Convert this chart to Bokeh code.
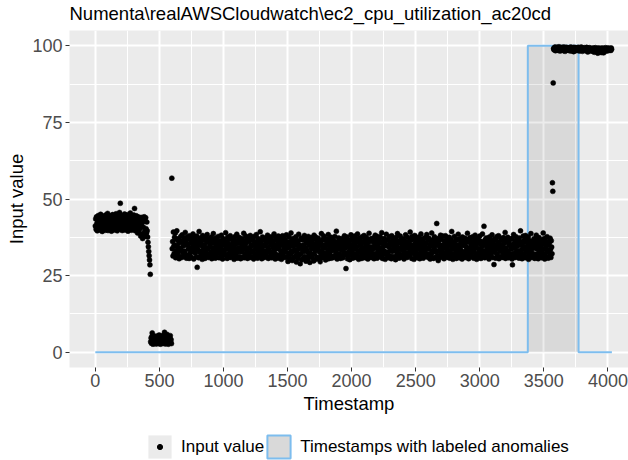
from bokeh.plotting import figure
from bokeh.layouts import column
from bokeh.models import ColumnDataSource, Range1d, FixedTicker, Legend, LegendItem
from bokeh.embed import file_html
from bokeh.resources import INLINE

FONT = "Liberation Sans"

title_text = r"Numenta\realAWSCloudwatch\ec2_cpu_utilization_ac20cd"
x_label = "Timestamp"
y_label = "Input value"
legend_points = "Input value"
legend_window = "Timestamps with labeled anomalies"

x_ticks = [0, 500, 1000, 1500, 2000, 2500, 3000, 3500, 4000]
x_minor_ticks = [250, 750, 1250, 1750, 2250, 2750, 3250, 3750]
y_ticks = [0, 25, 50, 75, 100]
y_minor_ticks = [12.5, 37.5, 62.5, 87.5]

n_timestamps = 4032          # series length (timestamps 0..4031)
sample_step = 3              # one plotted reading every 3 timestamps
anomaly_window = [3375, 3771]  # labeled anomaly window (start, end)
label_normal = 0
label_anomaly = 100

# readings (t = 0 .. 405)
seg_a = [
    41.2, 43.5, 40.1, 44.2, 42.0, 39.6, 43.1, 41.8, 44.6, 40.7, 42.9, 39.9, 43.8, 41.4, 45.0, 40.3, 42.4, 44.0, 39.4, 43.3,
    41.0, 44.4, 42.6, 40.0, 43.7, 41.6, 39.8, 44.8, 42.2, 40.5, 43.0, 41.3, 45.3, 39.7, 42.8, 44.1, 40.9, 43.6, 41.9, 40.2,
    44.5, 42.3, 39.5, 43.4, 41.1, 44.9, 40.6, 42.7, 43.9, 39.9, 41.7, 44.3, 40.4, 42.1, 45.2, 41.5, 43.2, 39.6, 42.5, 44.7,
    40.8, 43.6, 41.2, 45.6, 42.0, 48.6, 40.1, 43.0, 44.6, 41.8, 39.7, 42.9, 44.2, 40.6, 43.5, 41.4, 45.1, 39.9, 42.4, 44.0,
    41.0, 43.8, 40.3, 42.7, 44.9, 39.5, 43.1, 41.6, 44.4, 40.5, 42.2, 45.4, 41.3, 43.7, 39.8, 42.6, 44.3, 40.7, 43.4, 41.9,
    44.8, 40.2, 46.9, 42.1, 39.6, 43.9, 41.5, 44.5, 40.0, 42.8, 38.9, 43.3, 41.1, 44.1, 39.3, 42.5, 40.4, 43.6, 37.9, 41.7,
    44.0, 38.4, 42.3, 37.1, 43.6, 40.8, 38.2, 44.2, 39.4, 42.7, 37.8, 43.9, 40.3, 38.8, 42.5, 39.6,
]
# drop (t = 408 .. 429)
seg_drop = [37.6, 35.9, 34.4, 32.9, 31.5, 30.1, 28.5, 25.4]
# low plateau (t = 432 .. 594)
seg_low = [
    3.4, 4.6, 2.9, 5.1, 6.3, 3.8, 2.6, 4.2, 5.4, 3.1, 4.8, 2.8, 3.6, 5.0, 4.1, 2.7, 3.9, 5.3, 3.3, 4.5,
    2.9, 4.0, 5.6, 3.2, 4.7, 2.6, 3.7, 5.2, 4.3, 3.0, 4.9, 2.8, 3.5, 5.5, 4.4, 3.1, 6.5, 4.0, 2.7, 5.0,
    3.6, 4.6, 2.9, 5.8, 3.3, 4.2, 2.6, 5.1, 3.9, 4.8, 3.0, 5.4, 3.4, 4.1, 2.8,
]
# single spike (t = 597)
seg_jump = [56.8]
# long middle band (t = 600 .. 3564)
seg_mid = [
    33.8, 36.1, 31.4, 39.2, 34.6, 32.2, 37.5, 35.0, 38.9, 30.8, 33.1, 36.8, 39.6, 31.9, 34.3, 37.0, 32.6, 35.7, 30.5, 36.4,
    34.0, 31.2, 37.8, 33.5, 35.9, 30.9, 38.3, 32.8, 36.2, 34.7, 31.6, 37.3, 33.0, 35.4, 39.1, 32.0, 36.6, 30.7, 34.9, 37.6,
    31.3, 35.2, 33.6, 36.9, 30.6, 38.0, 34.1, 32.4, 37.1, 35.6, 31.0, 33.9, 36.3, 32.9, 38.6, 34.5, 30.4, 37.7, 33.2, 35.8,
    32.3, 36.7, 34.2, 31.1, 37.9, 27.7, 35.3, 33.4, 36.0, 30.8, 39.4, 32.7, 34.8, 37.2, 31.5, 35.5, 33.0, 36.5, 30.3, 38.1,
    34.4, 31.8, 36.8, 33.3, 35.1, 30.6, 37.4, 32.5, 34.0, 36.2, 31.2, 38.4, 33.7, 35.9, 30.9, 37.0, 32.1, 34.6, 36.6, 31.7,
    35.4, 32.8, 37.6, 30.5, 34.1, 36.4, 31.4, 38.7, 33.1, 35.7, 32.0, 36.9, 30.7, 34.5, 37.3, 33.6, 31.0, 35.0, 36.1, 32.4,
    37.8, 33.9, 30.8, 35.6, 32.6, 36.3, 34.3, 31.3, 38.2, 33.2, 35.2, 30.4, 37.1, 32.9, 36.7, 34.8, 31.9, 35.8, 33.5, 39.0,
    31.6, 36.0, 33.8, 30.6, 37.5, 34.7, 32.2, 35.3, 36.8, 31.1, 33.4, 38.0, 30.9, 35.1, 32.5, 37.2, 34.2, 31.8, 36.5, 33.0,
    35.9, 30.3, 34.9, 37.7, 32.3, 36.1, 31.5, 33.7, 38.5, 30.7, 35.5, 32.8, 36.6, 34.0, 31.2, 37.4, 33.3, 35.6, 30.5, 36.9,
    32.7, 34.6, 37.0, 31.0, 35.2, 33.6, 38.8, 30.8, 36.3, 32.1, 34.4, 37.9, 31.7, 35.7, 33.1, 36.8, 30.6, 34.1, 37.5, 32.4,
    36.2, 31.4, 33.9, 38.1, 30.9, 35.0, 32.6, 37.3, 34.8, 31.1, 36.5, 33.2, 30.4, 37.8, 35.4, 32.0, 36.0, 34.3, 31.6, 38.4,
    33.5, 35.8, 30.7, 37.1, 32.9, 36.7, 34.5, 31.3, 35.3, 39.3, 32.2, 34.0, 36.4, 30.5, 33.7, 37.6, 31.9, 35.1, 32.5, 36.9,
    30.9, 34.7, 37.2, 33.0, 35.6, 31.5, 36.1, 32.8, 38.2, 34.2, 30.6, 35.9, 33.4, 37.0, 31.2, 36.6, 34.9, 32.3, 37.7, 30.8,
    35.5, 32.7, 36.3, 34.1, 31.8, 38.6, 33.3, 35.0, 30.4, 37.4, 32.0, 36.8, 34.6, 31.0, 35.7, 33.8, 37.9, 30.7, 34.3, 36.2,
    31.7, 37.5, 33.1, 35.4, 30.3, 36.7, 32.4, 38.0, 34.8, 31.4, 35.8, 33.6, 37.2, 30.9, 34.0, 36.4, 32.6, 38.3, 31.1, 35.2,
    33.9, 29.6, 36.0, 32.2, 37.6, 34.4, 30.5, 35.6, 31.9, 38.9, 33.0, 36.5, 29.9, 34.7, 32.8, 37.1, 30.8, 35.3, 33.5, 36.9,
    31.3, 34.9, 37.7, 29.4, 35.9, 32.5, 36.2, 30.6, 33.7, 38.5, 31.6, 35.1, 34.2, 28.9, 36.8, 32.1, 37.3, 30.2, 34.6, 33.2,
    36.6, 30.7, 35.0, 32.9, 38.1, 31.2, 34.0, 37.0, 29.7, 35.7, 33.4, 36.3, 30.4, 32.6, 37.8, 34.8, 31.5, 35.5, 29.3, 36.1,
    32.3, 37.4, 33.8, 30.9, 35.8, 31.8, 36.9, 34.5, 29.8, 38.2, 32.0, 35.2, 33.1, 37.6, 30.3, 34.1, 36.4, 31.0, 35.4, 33.6,
    37.2, 30.6, 34.7, 32.7, 36.0, 29.5, 35.6, 31.7, 38.7, 33.3, 30.8, 36.7, 34.3, 32.4, 37.9, 31.1, 35.0, 33.9, 36.5, 30.1,
    34.9, 32.2, 37.0, 31.4, 35.7, 33.0, 38.4, 30.5, 36.2, 34.0, 31.9, 35.3, 32.9, 37.5, 30.7, 36.8, 33.5, 31.2, 35.9, 34.4,
    30.9, 36.3, 33.2, 37.8, 31.6, 35.1, 32.5, 39.5, 34.6, 30.4, 36.0, 33.7, 31.0, 37.3, 35.5, 32.1, 34.2, 36.7, 30.6, 35.8,
    33.4, 31.3, 37.1, 34.8, 30.8, 36.4, 32.7, 35.2, 38.0, 31.8, 33.9, 36.9, 27.3, 35.4, 32.3, 37.6, 30.5, 34.5, 36.1, 31.5,
    35.6, 33.1, 30.2, 36.6, 34.0, 38.3, 31.9, 35.0, 32.8, 37.4, 30.7, 34.7, 36.2, 31.1, 33.6, 37.9, 32.0, 35.7, 30.9, 36.8,
    34.3, 31.7, 38.6, 33.0, 35.9, 30.3, 37.2, 32.6, 36.5, 34.9, 31.2, 35.3, 33.8, 30.6, 37.7, 32.4, 36.0, 34.1, 31.4, 38.1,
    32.9, 36.7, 30.8, 35.1, 33.3, 37.5, 31.6, 34.6, 36.3, 30.4, 35.8, 32.2, 38.8, 33.7, 31.0, 36.9, 34.4, 32.7, 37.0, 30.9,
    36.1, 33.5, 31.8, 37.3, 34.2, 30.5, 35.5, 32.1, 38.2, 33.9, 36.6, 31.3, 34.8, 30.7, 37.8, 32.8, 35.2, 33.2, 36.4, 31.5,
    34.0, 37.6, 31.1, 35.7, 32.5, 39.0, 33.6, 30.6, 36.2, 34.5, 31.9, 37.1, 33.0, 35.4, 30.3, 36.8, 32.3, 38.5, 34.7, 31.7,
    35.0, 32.7, 36.5, 30.8, 34.3, 37.7, 31.4, 35.9, 33.3, 36.0, 30.5, 38.0, 32.9, 34.9, 31.2, 37.2, 33.8, 35.6, 30.9, 36.7,
    33.1, 30.2, 37.4, 34.6, 31.8, 35.3, 38.7, 32.4, 36.3, 33.7, 30.7, 35.8, 32.0, 37.9, 34.1, 31.0, 36.9, 33.4, 35.1, 31.6,
    37.0, 33.2, 35.7, 30.4, 36.4, 32.6, 34.4, 38.3, 31.3, 35.2, 33.9, 30.9, 37.5, 32.2, 36.1, 34.8, 31.5, 35.5, 33.0, 39.2,
    31.9, 36.6, 34.2, 30.6, 37.8, 33.5, 35.0, 32.8, 36.9, 30.3, 34.7, 38.1, 31.7, 35.9, 33.1, 37.3, 32.1, 34.0, 36.2, 30.8,
    35.4, 31.1, 37.6, 33.7, 30.5, 36.5, 32.5, 38.6, 34.5, 31.6, 35.8, 33.3, 37.0, 30.7, 36.0, 32.9, 34.9, 31.2, 37.4, 33.8,
    32.3, 35.6, 38.4, 31.4, 34.1, 36.8, 30.9, 33.6, 37.2, 32.0, 35.1, 30.4, 36.4, 34.6, 31.8, 38.9, 33.0, 35.3, 32.6, 36.7,
    30.6, 34.3, 37.7, 33.4, 35.9, 31.0, 36.2, 32.7, 42.0, 34.8, 31.5, 37.1, 29.9, 35.5, 33.1, 36.6, 30.8, 34.0, 38.2, 32.4,
    36.9, 33.5, 31.3, 35.0, 37.9, 32.2, 34.7, 30.5, 36.3, 33.9, 31.7, 38.0, 35.4, 32.8, 37.3, 30.9, 34.4, 36.1, 31.9, 35.7,
    33.2, 37.5, 30.7, 34.9, 32.5, 36.7, 31.2, 39.4, 33.7, 35.6, 30.3, 36.0, 34.2, 32.0, 37.8, 31.6, 35.2, 33.0, 36.5, 30.6,
    34.6, 31.4, 36.8, 33.4, 38.5, 32.6, 35.1, 30.8, 37.0, 34.0, 31.8, 35.8, 33.1, 36.4, 30.4, 37.6, 32.3, 34.8, 31.0, 36.2,
    35.5, 32.9, 37.2, 30.9, 34.5, 36.6, 31.5, 33.8, 38.8, 32.1, 35.9, 30.5, 36.9, 33.3, 31.9, 37.4, 34.3, 32.4, 35.0, 36.0,
    31.2, 34.1, 37.7, 33.6, 30.7, 36.3, 32.7, 35.4, 38.2, 31.7, 34.7, 36.8, 30.3, 33.9, 37.1, 32.2, 35.6, 31.0, 36.5, 33.5,
    37.9, 32.5, 35.2, 30.6, 36.1, 34.4, 31.3, 38.6, 33.0, 35.7, 32.0, 41.1, 34.9, 30.8, 36.7, 33.2, 31.6, 37.3, 34.6, 32.8,
    35.8, 31.1, 36.4, 33.7, 30.4, 37.6, 32.3, 34.8, 36.9, 31.8, 35.3, 33.1, 38.3, 30.9, 34.2, 36.2, 32.6, 28.6, 35.0, 37.0,
    33.4, 30.7, 36.6, 34.0, 32.1, 37.8, 31.4, 35.5, 33.8, 38.0, 30.5, 36.0, 32.9, 34.7, 31.2, 37.2, 35.1, 33.3, 30.9, 36.8,
    34.5, 32.4, 37.4, 31.0, 35.6, 33.5, 39.1, 30.6, 36.3, 34.1, 31.7, 35.9, 32.7, 37.5, 33.0, 30.8, 36.5, 34.8, 32.0, 35.2,
    31.5, 36.9, 33.6, 37.1, 30.4, 28.5, 34.3, 32.2, 38.4, 35.4, 31.1, 33.9, 36.2, 30.9, 37.7, 32.8, 35.0, 34.6, 31.8, 36.7,
    33.1, 35.7, 30.7, 37.3, 32.5, 34.9, 39.6, 31.3, 36.0, 33.4, 30.5, 35.3, 32.1, 37.9, 34.2, 31.6, 36.6, 33.7, 30.8, 38.1,
    35.9, 32.6, 34.5, 31.2, 36.8, 33.2, 37.6, 30.3, 35.1, 32.9, 36.4, 31.9, 34.0, 38.7, 33.5, 30.9, 36.1, 32.3, 35.5, 34.7,
    31.4, 37.0, 33.9, 30.6, 36.3, 34.4, 32.0, 38.2, 35.8, 31.1, 33.6, 36.9, 30.5, 34.8, 37.4, 32.7, 35.2, 31.7, 36.5, 33.0,
    34.1, 30.8, 36.7, 32.4, 35.4, 38.9, 31.3, 33.8, 37.1, 30.4, 35.7, 32.2, 36.2, 34.6, 31.0, 37.7, 33.3, 35.0, 30.7, 36.0,
    32.8, 35.6, 31.5, 37.2, 33.5, 30.9, 36.4, 34.3, 32.1,
]
# jump into the anomaly (t = 3567 .. 3573)
seg_spike = [55.3, 52.5, 87.9]
# high plateau (t = 3576 .. 4029)
seg_high = [
    99.1, 98.7, 99.4, 98.9, 99.6, 98.4, 99.2, 99.0, 98.8, 99.5, 98.6, 99.3, 99.0, 98.5, 99.7, 98.9, 99.1, 98.3, 99.4, 98.8,
    99.2, 98.6, 99.5, 99.0, 98.7, 99.3, 98.4, 99.6, 98.9, 99.1, 98.2, 99.4, 98.8, 99.0, 99.5, 98.6, 99.2, 98.9, 99.3, 98.5,
    99.0, 99.4, 98.7, 99.1, 98.3, 99.6, 98.8, 99.2, 98.5, 99.3, 98.9, 99.0, 98.1, 99.5, 98.6, 99.1, 98.8, 99.4, 98.4, 99.2,
    98.9, 99.3, 98.6, 99.0, 99.5, 98.7, 99.2, 98.3, 99.4, 98.8, 99.1, 98.5, 99.6, 98.9, 99.0, 98.2, 99.3, 98.7, 99.1, 98.6,
    99.4, 98.8, 99.0, 98.4, 99.2, 98.9, 99.5, 98.6, 99.1, 98.0, 99.3, 98.7, 99.0, 98.5, 99.4, 98.8, 99.2, 98.3, 99.0, 98.9,
    98.6, 99.1, 98.2, 99.3, 98.8, 99.0, 97.9, 99.2, 98.5, 99.4, 98.7, 99.0, 98.1, 99.1, 98.9, 97.6, 99.3, 98.4, 99.0, 98.6,
    99.2, 98.0, 98.8, 99.1, 97.8, 98.9, 99.3, 98.3, 99.0, 98.7, 97.7, 99.2, 98.5, 99.0, 98.8, 99.4, 98.2, 99.1, 98.6, 99.0,
    98.8, 99.3, 98.4, 99.1, 98.9, 98.6, 99.2, 98.7, 99.0, 98.5, 99.3, 98.9,
]

values = seg_a + seg_drop + seg_low + seg_jump + seg_mid + seg_spike + seg_high
timestamp = [i * sample_step for i in range(len(values))]

ws, we = anomaly_window
label_t = [0, ws, ws, we, we, n_timestamps - 1]
label_v = [label_normal, label_normal, label_anomaly, label_anomaly, label_normal, label_normal]

BLUE = "#7DBDEE"
PANEL = "#EBEBEB"

pts = ColumnDataSource(dict(t=timestamp, v=values))
win = ColumnDataSource(dict(left=[ws], right=[we], bottom=[label_normal], top=[label_anomaly]))
lab = ColumnDataSource(dict(t=label_t, v=label_v))


def bare(fig):
    fig.grid.visible = False
    fig.outline_line_color = None
    fig.background_fill_color = "white"
    fig.border_fill_color = "white"


# ---------------- title strip (frame aligned with the plot frame) ----------------
tf = figure(width=628, height=30, output_backend="svg", toolbar_location=None,
            x_range=Range1d(0, 1), y_range=Range1d(0, 1), title=title_text,
            x_axis_location=None, y_axis_location=None,
            min_border_left=0, min_border_right=0, min_border_top=0, min_border_bottom=0)
bare(tf)
tf.title.text_font = FONT
tf.title.text_font_size = "18.5px"
tf.title.text_font_style = "normal"
tf.title.text_color = "black"
tf.title.align = "left"
tf.title.standoff = 0

# ---------------- main plot ----------------
p = figure(width=628, height=390, output_backend="svg", toolbar_location=None,
           x_range=Range1d(-201.5, 4160.7), y_range=Range1d(-5, 105), title=None,
           min_border_left=69, min_border_right=0, min_border_top=0, min_border_bottom=53)
p.background_fill_color = PANEL
p.border_fill_color = "white"
p.outline_line_color = None

p.quad(left="left", right="right", bottom="bottom", top="top", source=win,
       fill_color="black", fill_alpha=0.075, line_color=None)
p.line(x="t", y="v", source=lab, line_color=BLUE, line_width=2)
p.scatter(x="t", y="v", source=pts, size=5, fill_color="black", line_color="black", line_width=0.5)

for ax, ticks, minor in ((p.xaxis[0], x_ticks, x_minor_ticks), (p.yaxis[0], y_ticks, y_minor_ticks)):
    ax.ticker = FixedTicker(ticks=ticks, minor_ticks=minor)
    ax.axis_line_color = None
    ax.major_tick_out = 4
    ax.major_tick_in = 0
    ax.minor_tick_out = 0
    ax.minor_tick_in = 0
    ax.major_tick_line_color = "#333333"
    ax.major_tick_line_width = 1
    ax.major_label_text_font = FONT
    ax.major_label_text_font_size = "18px"
    ax.major_label_text_color = "#4D4D4D"
    ax.major_label_standoff = 2
    ax.axis_label_text_font = FONT
    ax.axis_label_text_font_size = "18.5px"
    ax.axis_label_text_font_style = "normal"
    ax.axis_label_text_color = "black"

p.xaxis.axis_label = x_label
p.yaxis.axis_label = y_label
p.xaxis.axis_label_standoff = 3
p.yaxis.axis_label_standoff = 2
p.yaxis.major_label_standoff = 3

for g, ticks, minor in ((p.xgrid[0], x_ticks, x_minor_ticks), (p.ygrid[0], y_ticks, y_minor_ticks)):
    g.ticker = FixedTicker(ticks=ticks, minor_ticks=minor)
    g.grid_line_color = "white"
    g.grid_line_width = 2
    g.minor_grid_line_color = "white"
    g.minor_grid_line_width = 1

# ---------------- legend strip (frame aligned with the plot frame) ----------------
lg = figure(width=628, height=40, output_backend="svg", toolbar_location=None,
            x_range=Range1d(0, 1), y_range=Range1d(0, 1),
            min_border_left=0, min_border_right=0, min_border_top=0, min_border_bottom=0)
lg.axis.visible = False
bare(lg)

key_bg = lg.quad(left="left", right="right", bottom="bottom", top="top", source=win,
                 fill_color=PANEL, line_color=None, visible=False)
key_win = lg.quad(left="left", right="right", bottom="bottom", top="top", source=win,
                  fill_color="black", fill_alpha=0.075, line_color=BLUE, line_width=2, visible=False)
key_dot = lg.scatter(x="left", y="bottom", source=win, size=5,
                     fill_color="black", line_color="black", visible=False)

leg = Legend(items=[LegendItem(label=legend_points, renderers=[key_bg]),
                    LegendItem(label=legend_window, renderers=[key_bg, key_win])],
             orientation="horizontal", location=(76, -1),
             glyph_width=29, glyph_height=29, label_height=29, label_standoff=7, spacing=0,
             padding=0, margin=0, background_fill_alpha=0, border_line_color=None,
             label_text_font=FONT, label_text_font_size="17px", label_text_color="black")
lg.add_layout(leg)

leg_dot = Legend(items=[LegendItem(label=" ", renderers=[key_dot])],
                 orientation="horizontal", location=(84, 7),
                 glyph_width=13, glyph_height=13, label_height=13, label_width=0, label_standoff=0,
                 spacing=0, padding=0, margin=0, background_fill_alpha=0, border_line_color=None,
                 label_text_font_size="1px")
lg.add_layout(leg_dot)

open("out.html", "w").write(file_html(column(tf, p, lg, spacing=0), INLINE))
